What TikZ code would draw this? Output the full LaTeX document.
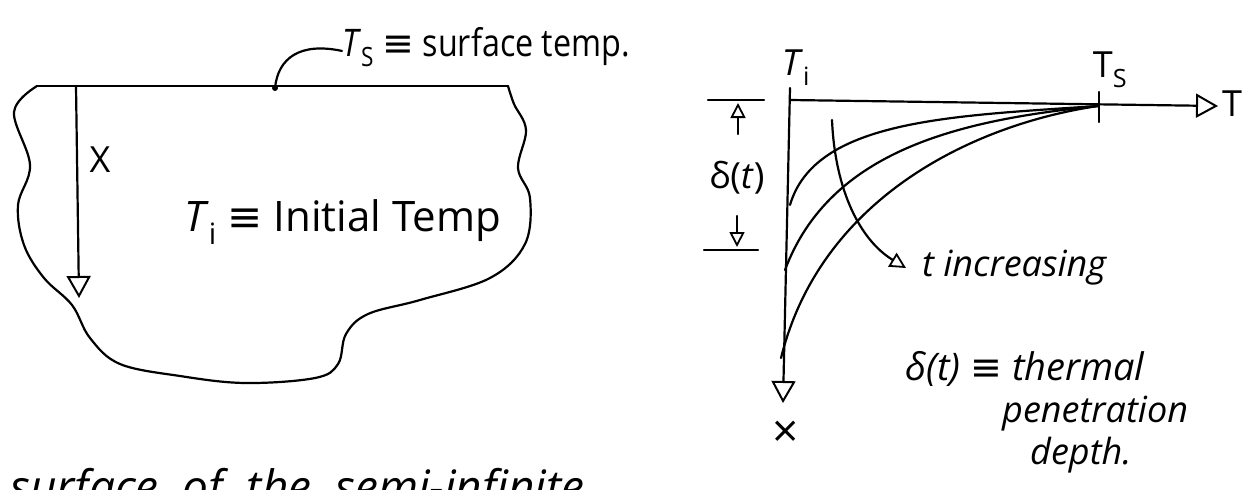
\documentclass[tikz,border=0pt]{standalone}
\usepackage{fontspec}
\setmainfont{Open Sans}
\newfontfamily\symf{DejaVu Sans}
\newfontfamily\narrowf[FakeStretch=0.85]{Open Sans}
\newcommand\eqv{{\symf ≡}}
\usetikzlibrary{arrows.meta}
\tikzset{
  ink/.style={line width=2.2pt, line cap=round, line join=round},
  openhead/.style={-{Triangle[open,length=22pt,width=24pt,line width=2pt]}},
  smallhead/.style={-{Triangle[open,length=15pt,width=15pt,line width=1.8pt]}},
  lbl/.style={font=\fontsize{36}{40}\selectfont, inner sep=0pt},
  slbl/.style={font=\fontsize{36}{40}\selectfont\itshape, inner sep=0pt},
}
\begin{document}
\begin{tikzpicture}[x=1pt,y=-1pt]
\useasboundingbox (0,0) rectangle (1248,490);
% ---------- left body ----------
\coordinate (tl) at (37,86);
\coordinate (tr) at (508,86);
\draw[ink] (tl) -- (tr);
\draw[ink] plot[smooth, tension=0.6] coordinates {(37,86) (14,112) (30,165) (18,205) (24,245) (44,278) (72,305) (90,338) (120,364) (180,376) (245,383) (315,378) (338,364) (346,334) (368,314) (420,300) (490,278) (525,244) (530,198) (518,168) (526,130) (514,104) (508,86)};
\coordinate (dot) at (275,88);
\fill (dot) circle (3pt);
\node[lbl, anchor=base west, font=\fontsize{38}{42}\narrowf] (ts) at (342,56) {\textit{T}\textsubscript{S} \eqv{} surface temp.};
\draw[ink] (dot) .. controls (278,58) and (300,42) .. ([yshift=-4pt]ts.west);
\coordinate (xtop) at (76,86);
\coordinate (xbot) at (79,298);
\draw[ink, openhead] (xtop) -- (xbot);
\node[lbl] (xl) at (100,160) {X};
\node[lbl, anchor=west, font=\fontsize{42}{46}\selectfont] (ti) at (184,222) {\textit{T}\textsubscript{i} \eqv{} Initial Temp};
% ---------- right graph ----------
\coordinate (o) at (790,100);
\coordinate (otop) at (790,88);
\coordinate (xend) at (783,403);
\coordinate (tend) at (1218,106);
\coordinate (tsp) at (1098,106);
\draw[ink, openhead] (otop) -- (xend);
\draw[ink, openhead] (o) -- (tend);
\draw[ink] (1099,92) -- (1099,122);
\node[lbl, anchor=south] (til) at (796,86) {\textit{T}\textsubscript{i}};
\node[lbl, anchor=south] (tsl) at (1110,88) {T\textsubscript{S}};
\node[lbl, anchor=west] (tl2) at (1222,104) {T};
\node[lbl, font=\fontsize{46}{50}\selectfont] (xax) at (786,434) {×};
% profiles
\draw[ink] (tsp) .. controls (950,116) and (815,120) .. (790,205);
\draw[ink] (tsp) .. controls (960,120) and (830,150) .. (785,270);
\draw[ink] (tsp) .. controls (970,125) and (820,200) .. (781,358);
% delta dimension
\draw[ink] (708,100) -- (764,100);
\draw[ink] (704,250) -- (758,250);
\draw[ink, smallhead] (738,134) -- (738,103);
\draw[ink, smallhead] (737,216) -- (737,247);
\node[lbl] (dl) at (737,178) {δ(\textit{t})};
% t increasing arrow
\coordinate (ta) at (832,120);
\coordinate (tb) at (906,268);
\draw[ink, -{Triangle[open,length=16pt,width=16pt,line width=1.8pt]}] (ta) .. controls (835,190) and (860,240) .. (tb);
\node[slbl, anchor=base west] (ti2) at (922,276) {t increasing};
\node[slbl, anchor=base west, font=\fontsize{38}{42}\selectfont\itshape] (pen1) at (905,380) {δ(t) \eqv{} thermal};
\node[slbl, anchor=base west] (pen2) at (1002,422) {penetration};
\node[slbl, anchor=base west] (pen3) at (1030,464) {depth.};
% bottom cut text
\node[lbl, anchor=base west, font=\fontsize{46}{50}\selectfont\itshape] (cut) at (10,503) {surface\ \ of\ \ the\ \ semi-infinite};
\end{tikzpicture}
\end{document}
